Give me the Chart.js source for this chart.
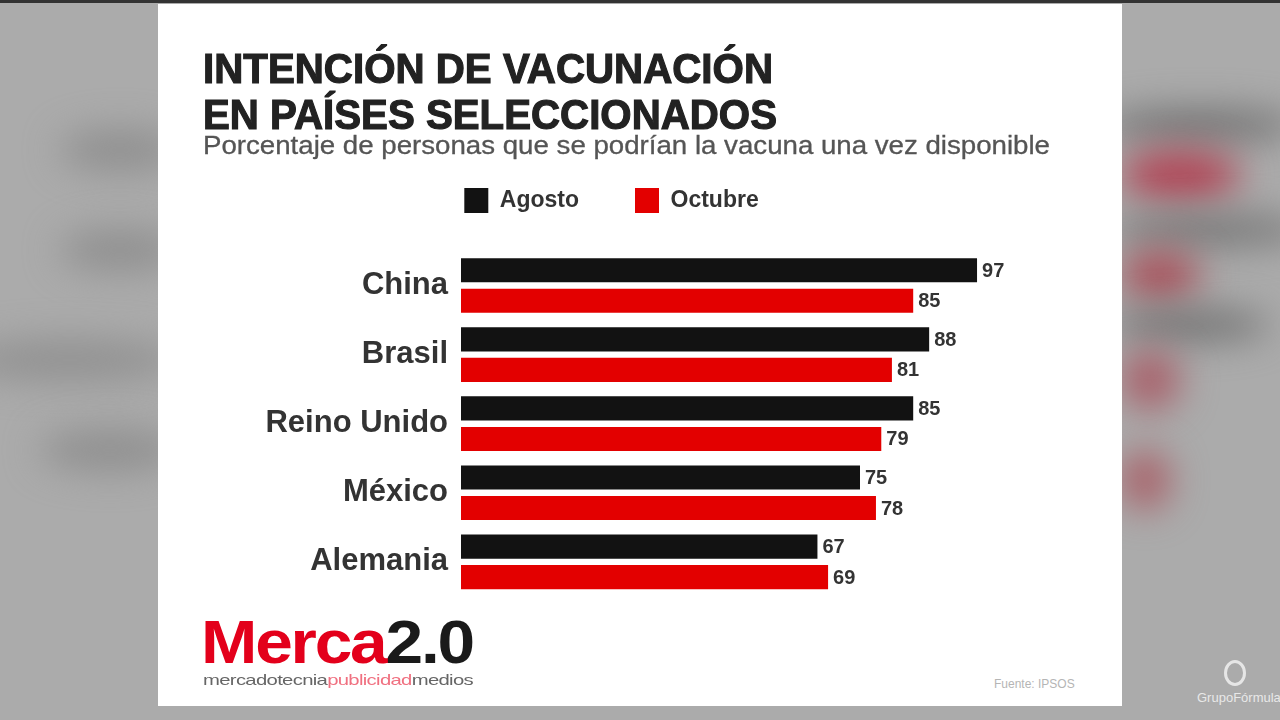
<!DOCTYPE html>
<html>
<head>
<meta charset="utf-8">
<script src="https://cdn.jsdelivr.net/npm/chart.js@4.4.1/dist/chart.umd.min.js"></script>
<style>
  html, body { margin: 0; padding: 0; }
  body { width: 1280px; height: 720px; position: relative; overflow: hidden; background: #ababab; font-family: 'Liberation Sans', Arial, sans-serif; }
  .blob { position: absolute; border-radius: 50%; filter: blur(18px); }
  .card { position: absolute; left: 158px; top: 4px; width: 964px; height: 702px; background: #fff; }
  .topbar { position: absolute; left: 0; top: 0; width: 1280px; height: 3px; background: #333; }
  .fit { position: absolute; white-space: nowrap; transform-origin: left top; }
  .title { left: 203px; font-weight: bold; font-size: 43px; line-height: 46px; color: #222; -webkit-text-stroke: 1.2px #222; }
  .sub { left: 203px; top: 130px; font-size: 25px; line-height: 30px; color: #555; -webkit-text-stroke: 0.3px #555; }
  #wrap { position: absolute; left: 158px; top: 132px; width: 907px; height: 496px; }
  .logo { left: 201px; top: 611px; font-size: 62px; line-height: 62px; font-weight: bold; letter-spacing: -2px; }
  .tag { left: 203px; top: 671px; font-size: 15px; line-height: 18px; color: #666; letter-spacing: -0.5px; }
  .src { position: absolute; left: 994px; top: 677px; font-size: 12px; color: #b5b5b5; }
  .gf { position: absolute; left: 1197px; top: 690px; font-size: 13px; color: #e8e8e8; }
  .gfi { position: absolute; left: 1224px; top: 660px; width: 22px; height: 26px; border-radius: 50%; border: 3px solid #e6e6e6; box-sizing: border-box; }
</style>
</head>
<body>
<div class="blob" style="left:60px;top:130px;width:120px;height:40px;background:#8e8e8e"></div>
<div class="blob" style="left:60px;top:230px;width:120px;height:40px;background:#8e8e8e"></div>
<div class="blob" style="left:-40px;top:340px;width:220px;height:40px;background:#909090"></div>
<div class="blob" style="left:40px;top:430px;width:140px;height:40px;background:#8e8e8e"></div>
<div class="blob" style="left:1100px;top:110px;width:200px;height:30px;background:#6e6e6e"></div>
<div class="blob" style="left:1120px;top:150px;width:120px;height:50px;background:#b04455"></div>
<div class="blob" style="left:1110px;top:215px;width:200px;height:30px;background:#737373"></div>
<div class="blob" style="left:1120px;top:250px;width:80px;height:50px;background:#a8525c"></div>
<div class="blob" style="left:1110px;top:310px;width:160px;height:30px;background:#6e6e6e"></div>
<div class="blob" style="left:1120px;top:350px;width:60px;height:60px;background:#a8606a"></div>
<div class="blob" style="left:1120px;top:450px;width:50px;height:60px;background:#a86068"></div>
<div class="topbar"></div>
<div class="card"></div>

<div class="fit title" id="t1" style="top:45px" data-w="570">INTENCIÓN DE VACUNACIÓN</div>
<div class="fit title" id="t2" style="top:91px" data-w="574">EN PAÍSES SELECCIONADOS</div>
<div class="fit sub" id="st" data-w="847">Porcentaje de personas que se podrían la vacuna una vez disponible</div>

<div id="wrap"><canvas id="chart"></canvas></div>

<div class="fit logo" data-w="272"><span style="color:#e3001b">Merca</span><span style="color:#1a1a1a">2.0</span></div>
<div class="fit tag" data-w="270">mercadotecnia<span style="color:#f07080">publicidad</span>medios</div>
<div class="src">Fuente: IPSOS</div>
<div class="gfi"></div>
<div class="gf">GrupoFórmula</div>

<script>
// squeeze the condensed-looking texts to the widths they have in the picture
document.querySelectorAll('.fit').forEach(el => {
  const w = el.getBoundingClientRect().width;
  el.style.transform = 'scaleX(' + (el.dataset.w / w) + ')';
});

const paises = ['China', 'Brasil', 'Reino Unido', 'México', 'Alemania'];
const agosto = [97, 88, 85, 75, 67];
const octubre = [85, 81, 79, 78, 69];

const fontFam = "'Liberation Sans', Arial, sans-serif";

// extra room under the legend
const legendMargin = {
  id: 'legendMargin',
  beforeInit(chart) {
    const fit = chart.legend.fit;
    chart.legend.fit = function () {
      fit.bind(chart.legend)();
      this.height += 28;
    };
  }
};

// numbers at the end of each bar
const barValues = {
  id: 'barValues',
  afterDatasetsDraw(chart) {
    const ctx = chart.ctx;
    ctx.save();
    ctx.font = 'bold 20px ' + fontFam;
    ctx.fillStyle = '#333';
    ctx.textAlign = 'left';
    ctx.textBaseline = 'middle';
    chart.data.datasets.forEach((ds, i) => {
      chart.getDatasetMeta(i).data.forEach((bar, j) => {
        ctx.fillText(ds.data[j], bar.x + 5, bar.y + 1);
      });
    });
    ctx.restore();
  }
};

new Chart(document.getElementById('chart'), {
  type: 'bar',
  data: {
    labels: paises,
    datasets: [{
      label: 'Agosto',
      data: agosto,
      backgroundColor: '#121212'
    }, {
      label: 'Octubre',
      data: octubre,
      backgroundColor: '#e30000'
    }]
  },
  options: {
    indexAxis: 'y',
    responsive: true,
    maintainAspectRatio: false,
    animation: false,
    categoryPercentage: 0.884,
    barPercentage: 0.79,
    layout: { padding: { left: 72, right: 72, top: 0, bottom: 6 } },
    scales: {
      x: { display: false, min: 0, max: 100 },
      y: {
        grid: { display: false, drawTicks: false },
        border: { display: false },
        ticks: {
          padding: 13,
          color: '#333',
          font: { family: fontFam, size: 31, weight: 'bold' }
        },
        afterFit(scale) { scale.width = 231; }
      }
    },
    plugins: {
      legend: {
        labels: {
          boxWidth: 24,
          boxHeight: 25,
          padding: 56,
          color: '#333',
          font: { family: fontFam, size: 23, weight: 'bold' }
        }
      },
      tooltip: { enabled: false }
    }
  },
  plugins: [legendMargin, barValues]
});
</script>
</body>
</html>
